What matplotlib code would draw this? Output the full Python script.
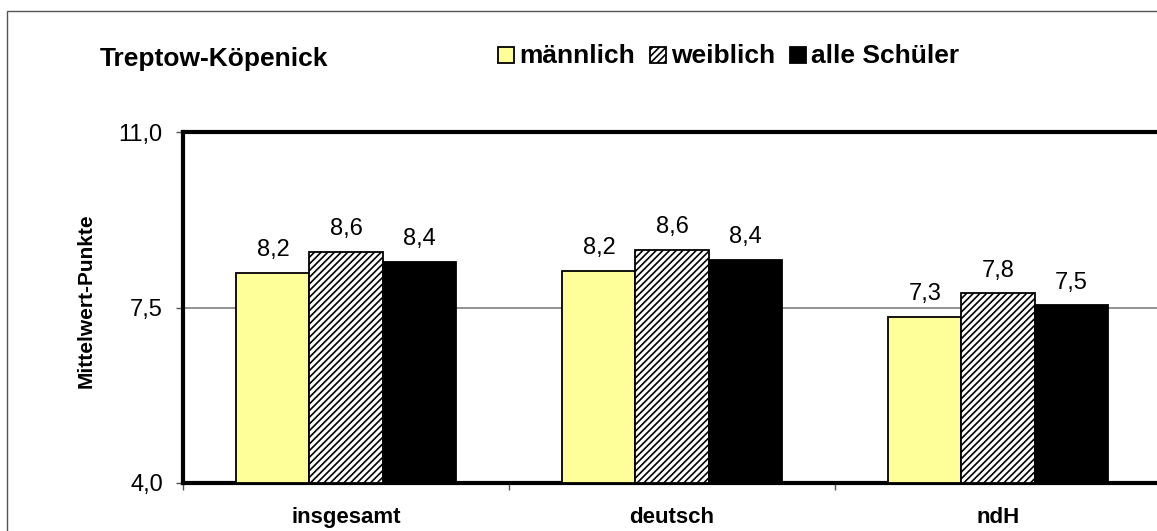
import matplotlib
matplotlib.use("Agg")
import matplotlib.pyplot as plt
from matplotlib.patches import Rectangle
import numpy as np

plt.rcParams['font.family'] = ['Liberation Sans', 'DejaVu Sans']
plt.rcParams['hatch.linewidth'] = 1.2

categories = ["insgesamt", "deutsch", "ndH"]
series_names = ["männlich", "weiblich", "alle Schüler"]
maennlich = [8.18, 8.23, 7.32]
weiblich = [8.61, 8.64, 7.78]
alle = [8.41, 8.44, 7.54]
y_ticks = [4.0, 7.5, 11.0]
title = "Treptow-Köpenick"
ylabel = "Mittelwert-Punkte"

W, H = 1157, 531
fig = plt.figure(figsize=(W / 100, H / 100), dpi=100)

def fx(x):
    return x / W

def fy(y):
    return 1 - y / H

# outer chart border (thin gray)
fig.patches.append(Rectangle((fx(7), fy(600)), fx(1300) - fx(7), fy(11) - fy(600),
                             transform=fig.transFigure, fill=False,
                             edgecolor='#555555', linewidth=1.0))

ax = fig.add_axes([fx(183), fy(483), fx(1161) - fx(183), fy(132) - fy(483)])

styles = [
    dict(facecolor='#FFFF99', hatch=None),
    dict(facecolor='white', hatch='/////'),
    dict(facecolor='black', hatch=None),
]
series = [maennlich, weiblich, alle]
x = np.arange(len(categories))
bw = 0.224
for i, (vals, st) in enumerate(zip(series, styles)):
    xs = x + (i - 1) * bw
    ax.bar(xs, np.array(vals) - y_ticks[0], bottom=y_ticks[0], width=bw,
           facecolor=st['facecolor'], edgecolor='black',
           hatch=st['hatch'], linewidth=1.3, zorder=3)
    for xi, v in zip(xs, vals):
        ax.annotate(f"{v:.1f}".replace('.', ','), (xi, v), xytext=(0, 12.2),
                    textcoords='offset points', ha='center', va='baseline',
                    fontsize=17, color='black')

ax.set_xlim(-0.5, len(categories) - 0.5)
ax.set_ylim(y_ticks[0], y_ticks[-1])
ax.set_yticks(y_ticks)
ax.set_yticklabels([f"{t:.1f}".replace('.', ',') for t in y_ticks], fontsize=17)
ax.set_xticks(x)
ax.set_xticklabels(categories, fontsize=16, fontweight='bold')
ax.tick_params(axis='x', length=0, pad=17)
ax.set_xticks(np.arange(len(categories) + 1) - 0.5, minor=True)
ax.tick_params(axis='x', which='minor', length=5, width=1, color='#555555', direction='out')
ax.tick_params(axis='y', length=5, width=1, color='#555555', direction='out', pad=9.5)
ax.axhline(7.5, color='#808080', linewidth=1.2, zorder=1)
for s in ax.spines.values():
    s.set_linewidth(3)
    s.set_color('black')

fig.text(fx(86), fy(301), ylabel, fontsize=15, fontweight='bold', rotation=90,
         va='center', ha='center')

fig.text(fx(100), fy(66), title, fontsize=19, fontweight='bold', va='baseline', ha='left')

# legend
leg_items = [(498, '#FFFF99', None), (650, 'white', '/////'), (790, 'black', None)]
for (lx, fc, hatch), name in zip(leg_items, series_names):
    r = Rectangle((fx(lx), fy(63)), fx(16), fy(47) - fy(63), transform=fig.transFigure,
                  facecolor=fc, edgecolor='black', hatch=hatch, linewidth=1.3)
    fig.patches.append(r)
    fig.text(fx(lx + 21), fy(63), name, fontsize=19, fontweight='bold', va='baseline', ha='left')

fig.savefig("out.png", dpi=100)
